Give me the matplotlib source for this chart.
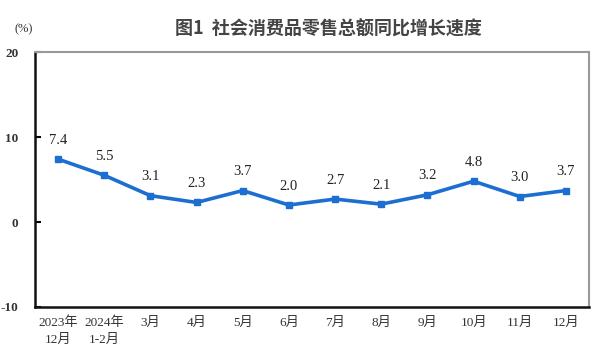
import matplotlib.pyplot as plt

plt.rcParams['font.family'] = ['Liberation Serif', 'Noto Sans CJK SC']

months = ['2023年\n12月', '2024年\n1-2月', '3月', '4月', '5月', '6月',
          '7月', '8月', '9月', '10月', '11月', '12月']
growth = [7.4, 5.5, 3.1, 2.3, 3.7, 2.0, 2.7, 2.1, 3.2, 4.8, 3.0, 3.7]
yticks = [-10, 0, 10, 20]

blue = '#1c6fd1'

fig = plt.figure(figsize=(6, 3.54), dpi=100)
ax = fig.add_axes([0.0583, 0.1328, 0.9234, 0.7202])

x = list(range(len(months)))
ax.plot(x, growth, color=blue, lw=2.6, marker='s', ms=5, zorder=3)
for xi, v in zip(x, growth):
    ax.annotate(f'{v:.1f}', (xi, v), xytext=(0, 9), textcoords='offset points',
                ha='center', va='bottom', fontsize=10.5, color='#222222')

ax.set_xlim(-0.5, 11.5)
ax.set_ylim(-10, 20)
ax.set_yticks(yticks)
ax.set_yticklabels([str(t) for t in yticks], fontsize=9.5, fontweight='bold', color='#333333')
ax.set_xticks(x)
ax.set_xticklabels(months, fontsize=9.5, color='#333333', linespacing=1.45)
ax.tick_params(axis='x', length=0, pad=7)
ax.tick_params(axis='y', direction='in', length=4, width=1.5, pad=12)

for s in ['left', 'bottom']:
    ax.spines[s].set_color('#111111')
    ax.spines[s].set_linewidth(1.8)
for s in ['top', 'right']:
    ax.spines[s].set_color('#999999')
    ax.spines[s].set_linewidth(1.5)

fig.text(0.547, 0.918, '图1  社会消费品零售总额同比增长速度', ha='center', va='center',
         fontsize=13, fontweight='bold', family=['Noto Sans CJK SC'], color='#444444')
fig.text(0.04, 0.918, '(%)', ha='center', va='center', fontsize=9, color='#333333')

fig.savefig('out.png', dpi=100)
